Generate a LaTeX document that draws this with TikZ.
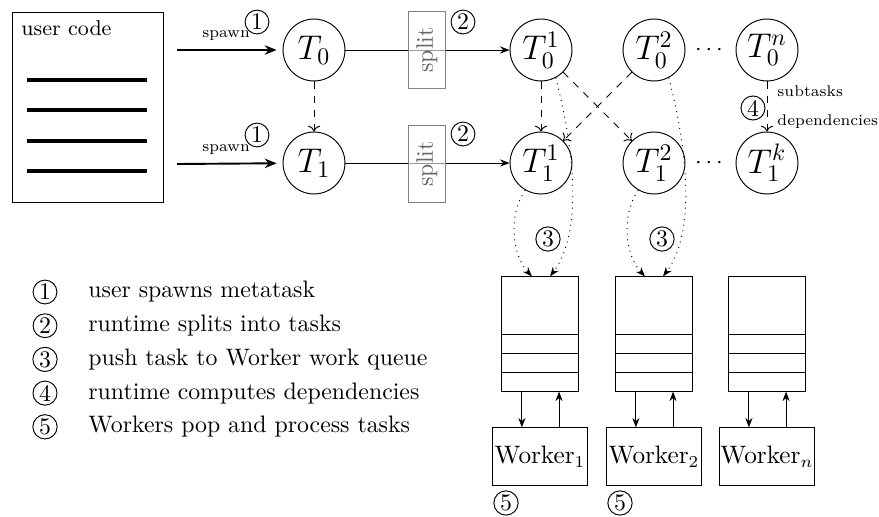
\documentclass[tikz,border=0pt]{standalone}
\usetikzlibrary{arrows.meta,calc}
\begin{document}
\begin{tikzpicture}[x=0.42pt,y=-0.42pt,
  task/.style={circle,draw,minimum size=26pt,inner sep=0pt,font=\Large},
  num/.style={circle,draw,inner sep=0.6pt,font=\normalsize},
  splitbox/.style={draw=gray,text=gray!80!black,fill=white,fill opacity=0.6,text opacity=1,rotate=90,minimum width=32pt,minimum height=15.5pt,inner sep=0pt},
  queue/.style={draw,minimum width=32pt,minimum height=48pt,inner sep=0pt},
  worker/.style={draw,minimum width=40pt,minimum height=24pt,inner xsep=0.5pt,inner ysep=0pt,font=\fontsize{10.6}{12}\selectfont},
  spawnarrow/.style={-{Stealth[length=5pt,width=4pt]},line width=0.8pt,shorten >=2.5pt},
  flow/.style={-{Stealth[length=4pt,width=3pt]}},
  dep/.style={dashed,->},
  push/.style={dotted,-{Stealth[length=4pt,width=3pt]}},
  small/.style={font=\fontsize{6.5}{8}\selectfont,inner sep=0pt},
  legend/.style={anchor=west,font=\normalsize}
]
\useasboundingbox (0,0) rectangle (879,516);

% user code
\node[draw,minimum width=63.4pt,minimum height=79.8pt,inner sep=0pt] (uc) at (87.5,107) {};
\node[font=\small,anchor=base west] (uct) at (13,35) {user code};
\foreach \yy in {80,110,141,171} \draw[line width=1.6pt] (27,\yy) -- (147,\yy);

% tasks
\node[task] (T0) at (314,50) {$T_0$};
\node[task] (T1) at (314,163) {$T_1$};
\node[task] (T01) at (541,50) {$T_0^1$};
\node[task] (T11) at (541,163) {$T_1^1$};
\node[task] (T02) at (654,50) {$T_0^2$};
\node[task] (T12) at (654,163) {$T_1^2$};
\node[task] (T0n) at (767,50) {$T_0^n$};
\node[task] (T1k) at (767,163) {$T_1^k$};
\node (d0) at (709,50) {$\cdots$};
\node (d1) at (709,163) {$\cdots$};

% spawn
\coordinate (s0) at (177,50);
\coordinate (s1) at (177,164);
\draw[spawnarrow] (s0) -- (T0);
\draw[spawnarrow] (s1) -- (T1);
\node[small,anchor=base] (sp0l) at (226,37) {spawn};
\node[small,anchor=base] (sp1l) at (226,151) {spawn};
\node[num] (n1a) at (257,22) {1};
\node[num] (n1b) at (257,135) {1};

% split
\draw[flow] (T0) -- (T01);
\draw[flow] (T1) -- (T11);
\node[splitbox] (sp0) at (427,50) {split};
\node[splitbox] (sp1) at (427,164) {split};
\node[num] (n2a) at (463,22) {2};
\node[num] (n2b) at (463,134) {2};

% dependencies
\draw[dep] (T0) -- (T1);
\draw[dep] (T01) -- (T11);
\draw[dep] (T01) -- (T12);
\draw[dep] (T02) -- (T11);
\draw[dep] (T0n) -- (T1k);
\node[small,anchor=west] (lsub) at (777,91) {subtasks};
\node[small,anchor=west] (ldep) at (777,122) {dependencies};
\node[num] (n4) at (753,108) {4};

% queues
\node[queue] (q1) at (540,334) {};
\node[queue] (q2) at (654,334) {};
\node[queue] (q3) at (767,334) {};
\foreach \q in {q1,q2,q3} {
  \foreach \s in {8pt,16pt,24pt}
    \draw ([yshift=\s]\q.south west) -- ([yshift=\s]\q.south east);
}

% workers
\node[worker] (w1) at (540,456.5) {Worker$_1$};
\node[worker] (w2) at (654,456.5) {Worker$_2$};
\node[worker] (w3) at (767,456.5) {Worker$_n$};
\foreach \q/\w in {q1/w1,q2/w2,q3/w3} {
  \draw[flow] ([xshift=-7.6pt]\q.south) -- ([xshift=-7.6pt]\w.north);
  \draw[flow] ([xshift=8pt]\w.north) -- ([xshift=8pt]\q.south);
}
\node[num] (n5a) at (506,503) {5};
\node[num] (n5b) at (620,503) {5};

% push
\draw[push] (T01.-62) .. controls (572,140) and (585,230) .. ([xshift=4.2pt]q1.north);
\draw[push] (T11.-120) .. controls (508,215) and (512,255) .. ([xshift=-3.4pt]q1.north);
\draw[push] (T02.-62) .. controls (685,140) and (698,230) .. ([xshift=3.8pt]q2.north);
\draw[push] (T12.-120) .. controls (621,215) and (625,255) .. ([xshift=-3.8pt]q2.north);
\node[num] (n3a) at (548,239) {3};
\node[num] (n3b) at (662,239) {3};

% legend
\node[num] (l1) at (45,292) {1};
\node[num] (l2) at (45,325.7) {2};
\node[num] (l3) at (45,359.4) {3};
\node[num] (l4) at (45,393.1) {4};
\node[num] (l5) at (45,426.8) {5};
\node[legend] (t1) at (80,292) {user spawns metatask};
\node[legend] (t2) at (80,325.7) {runtime splits into tasks};
\node[legend] (t3) at (80,359.4) {push task to Worker work queue};
\node[legend] (t4) at (80,393.1) {runtime computes dependencies};
\node[legend] (t5) at (80,426.8) {Workers pop and process tasks};
\end{tikzpicture}
\end{document}
